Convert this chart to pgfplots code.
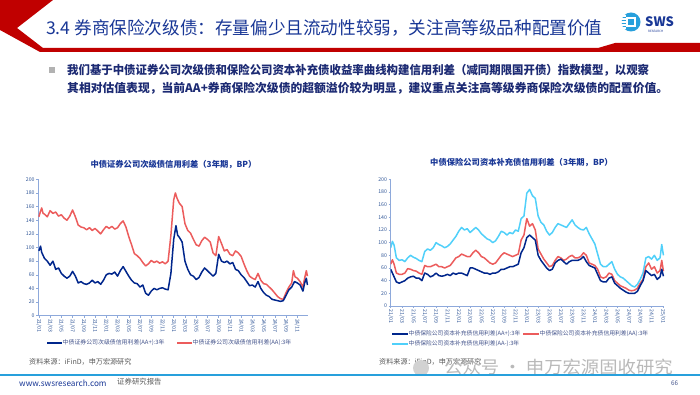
\documentclass[border=0pt]{standalone}
\usepackage{fontspec}
\usepackage{pgfplots}
\pgfplotsset{compat=1.18}
\setmainfont{Noto Sans CJK SC}
\definecolor{navy}{RGB}{0,38,140}
\definecolor{redl}{RGB}{236,92,92}
\definecolor{skyl}{RGB}{80,208,250}
\definecolor{axisblue}{RGB}{142,169,219}
\definecolor{ticklab}{RGB}{47,85,151}
\definecolor{titleblue}{RGB}{25,55,150}
\definecolor{bodyblue}{RGB}{28,42,115}
\definecolor{chevred}{RGB}{192,0,0}
\definecolor{legtext}{RGB}{68,84,140}
\definecolor{srcgray}{RGB}{89,89,89}
\definecolor{sepblue}{RGB}{40,160,220}
\newcommand\fs[1]{\fontsize{#1}{#1}\selectfont}
\begin{document}
\begin{tikzpicture}[x=1pt,y=1pt]
\path[use as bounding box, fill=white] (0,0) rectangle (700,394);
% header chevron and bar
\fill[chevred] (0,394) -- (53,394) -- (17,366) -- (43,346) -- (598,346) -- (615,351) -- (700,351) -- (700,342) -- (40,342) -- (0,364) -- cycle;
\node[anchor=west, inner sep=0, text=titleblue, font=\fs{17.6}] at (46,366) {3.4 券商保险次级债：存量偏少且流动性较弱，关注高等级品种配置价值};
% logo
\fill[sepblue] (631,372) circle (9.5);
\fill[white] (626,367) rectangle (636,377);
\fill[sepblue] (628,369) rectangle (634,375);
\foreach \yy in {366,369,372,375,378} {\fill[white] (621,\yy-0.6) rectangle (626,\yy+0.6);}
\node[anchor=west, inner sep=0, text=titleblue, font=\fs{13}\bfseries] at (645,372) {SWS};
\node[anchor=west, inner sep=0, text=titleblue, font=\fs{3}] at (648,362.5) {RESEARCH};
% bullet text
\fill[gray!60] (48.5,320.5) rectangle (55,327);
\node[anchor=west, inner sep=0, text=bodyblue, font=\fs{11.8}\bfseries, xscale=0.967] at (67,324) {我们基于中债证券公司次级债和保险公司资本补充债收益率曲线构建信用利差（减同期限国开债）指数模型，以观察};
\node[anchor=west, inner sep=0, text=bodyblue, font=\fs{11.8}\bfseries] at (67,306) {其相对估值表现，当前AA+券商保险次级债的超额溢价较为明显，建议重点关注高等级券商保险次级债的配置价值。};
% chart titles
\node[text=titleblue, font=\fs{8.3}\bfseries, inner sep=0] at (173.5,229) {中债证券公司次级债信用利差（3年期，BP）};
\node[text=titleblue, font=\fs{8.3}\bfseries, inner sep=0] at (521.5,231) {中债保险公司资本补充债信用利差（3年期，BP）};

\pgfplotsset{myax/.style={
  scale only axis, anchor=south west,
  ymin=0, ymax=200, ytick={0,20,...,200},
  axis x line*=bottom, axis y line*=left,
  axis line style={color=axisblue, line width=0.7pt},
  tick style={color=axisblue, line width=0.5pt}, tick align=outside, major tick length=2pt,
  ticklabel style={font=\fs{5.2}, text=ticklab},
  x tick label style={rotate=-90, anchor=west, inner sep=1.2pt},
  y tick label style={inner sep=1.5pt},
  /pgf/number format/assume math mode=true,
  every axis plot/.append style={line width=1.5pt, line join=round, mark=none},
}}

% ===== left chart =====
\begin{axis}[myax, at={(38.3pt,78.3pt)}, width=269.7pt, height=136.4pt,
  xmin=-0.1, xmax=47.9,
  xtick={0,2,...,46},
  xticklabels={21/01,21/03,21/05,21/07,21/09,21/11,22/01,22/03,22/05,22/07,22/09,22/11,23/01,23/03,23/05,23/07,23/09,23/11,24/01,24/03,24/05,24/07,24/09,24/11}]
\addplot[color=redl] coordinates {
(0,145)(0.25,152)(0.5,158)(0.75,150)(1,149)(1.5,145)(2,154)(2.5,150)(3,152)(3.5,146)(4,148)(4.5,143)(5,140)(5.5,146)(6,155)(6.5,145)(7,133)(7.5,130)(8,129)(8.5,126)(9,129)(9.5,125)(10,128)(10.5,124)(11,120)(11.5,126)(12,131)(12.5,128)(13,131)(13.5,127)(14,129)(14.5,135)(15,139)(15.5,130)(16,116)(16.5,104)(17,91)(17.5,88)(18,84)(18.5,78)(19,73)(19.5,76)(20,81)(20.5,78)(21,80)(21.5,77)(22,79)(22.5,76)(23,80)(23.5,118)(24,170)(24.3,180)(24.6,172)(25,165)(25.5,160)(26,135)(26.5,125)(27,121)(27.5,112)(28,104)(28.5,102)(29,110)(29.5,115)(30,112)(30.5,108)(31,92)(31.5,88)(32,116)(32.5,106)(33,95)(33.5,97)(34,90)(34.5,88)(35,95)(35.5,92)(36,87)(36.5,76)(37,66)(37.5,58)(38,55)(38.5,53)(39,62)(39.5,52)(40,47)(40.5,46)(41,42)(41.5,38)(42,33)(42.5,28)(43,25)(43.5,24)(44,34)(44.5,42)(45,48)(45.3,66)(45.6,57)(46,55)(46.5,50)(47,42)(47.3,55)(47.6,66)(47.8,58)
};
\addplot[color=navy] coordinates {
(0,95)(0.3,102)(0.5,93)(1,84)(1.5,80)(2,74)(2.5,80)(3,68)(3.5,70)(4,62)(4.5,58)(5,55)(5.5,58)(6,65)(6.5,58)(7,48)(7.5,50)(8,47)(8.5,46)(9,48)(9.5,52)(10,48)(10.5,50)(11,46)(11.5,52)(12,60)(12.5,62)(13,61)(13.5,64)(14,58)(14.5,66)(15,72)(15.5,65)(16,58)(16.5,52)(17,48)(17.5,47)(18,42)(18.5,45)(19,33)(19.5,30)(20,36)(20.5,40)(21,38)(21.5,40)(22,41)(22.5,39)(23,38)(23.5,62)(24,112)(24.4,132)(24.7,118)(25,115)(25.5,108)(26,80)(26.5,68)(27,60)(27.5,58)(28,53)(28.5,56)(29,64)(29.5,70)(30,66)(30.5,62)(31,58)(31.5,62)(32,90)(32.5,80)(33,78)(33.5,80)(34,76)(34.5,78)(35,68)(35.5,66)(36,60)(36.5,56)(37,50)(37.5,44)(38,45)(38.5,42)(39,50)(39.5,40)(40,34)(40.5,30)(41,28)(41.5,24)(42,23)(42.5,22)(43,21)(43.5,22)(44,30)(44.5,38)(45,42)(45.5,50)(46,48)(46.5,45)(47,36)(47.3,48)(47.6,55)(47.8,45)
};
\end{axis}

% ===== right chart =====
\begin{axis}[myax, at={(390.7pt,88pt)}, width=273.3pt, height=126.7pt,
  xmin=0, xmax=48.2,
  xtick={0,2,...,48},
  xticklabels={21/01,21/03,21/05,21/07,21/09,21/11,22/01,22/03,22/05,22/07,22/09,22/11,23/01,23/03,23/05,23/07,23/09,23/11,24/01,24/03,24/05,24/07,24/09,24/11,25/01}]
\addplot[color=skyl] coordinates {
(0,92)(0.3,102)(0.6,96)(1,76)(1.5,72)(2,73)(2.5,70)(3,76)(3.5,80)(4,77)(4.5,75)(5,72)(5.5,70)(6,86)(6.5,90)(7,88)(7.5,92)(8,100)(8.5,97)(9,95)(9.5,92)(10,94)(10.5,98)(11,104)(11.5,110)(12,118)(12.5,124)(13,120)(13.5,122)(14,116)(14.5,120)(15,124)(15.5,120)(16,114)(16.5,110)(17,106)(17.5,104)(18,100)(18.5,103)(19,110)(19.5,118)(20,116)(20.5,112)(21,116)(21.5,114)(22,120)(22.5,118)(23,138)(23.5,142)(24,178)(24.5,184)(25,174)(25.5,170)(26,142)(26.5,132)(27,128)(27.5,118)(28,112)(28.5,116)(29,124)(29.5,130)(30,128)(30.5,126)(31,124)(31.5,130)(32,136)(32.5,128)(33,124)(33.5,121)(34,120)(34.5,124)(35,114)(35.5,106)(36,98)(36.5,82)(37,66)(37.5,62)(38,62)(38.5,66)(39,70)(39.5,58)(40,50)(40.5,46)(41,44)(41.5,40)(42,36)(42.5,32)(43,30)(43.5,34)(44,42)(44.5,52)(45,76)(45.5,78)(46,74)(46.5,80)(47,72)(47.5,76)(47.8,97)(48.1,80)
};
\addplot[color=redl] coordinates {
(0,66)(0.3,73)(0.6,66)(1,52)(1.5,50)(2,50)(2.5,52)(3,59)(3.5,58)(4,56)(4.5,55)(5,52)(5.5,50)(6,64)(6.5,62)(7,62)(7.5,64)(8,66)(8.5,62)(9,62)(9.5,60)(10,62)(10.5,64)(11,70)(11.5,76)(12,78)(12.5,82)(13,80)(13.5,78)(14,78)(14.5,84)(15,88)(15.5,84)(16,78)(16.5,76)(17,72)(17.5,68)(18,66)(18.5,68)(19,74)(19.5,80)(20,84)(20.5,82)(21,80)(21.5,78)(22,80)(22.5,82)(23,104)(23.5,112)(24,138)(24.5,126)(25,130)(25.5,120)(26,90)(26.5,82)(27,74)(27.5,68)(28,62)(28.5,64)(29,72)(29.5,78)(30,76)(30.5,72)(31,74)(31.5,78)(32,80)(32.5,76)(33,76)(33.5,78)(34,84)(34.5,80)(35,68)(35.5,66)(36,64)(36.5,58)(37,46)(37.5,44)(38,46)(38.5,52)(39,50)(39.5,40)(40,36)(40.5,32)(41,30)(41.5,28)(42,25)(42.5,24)(43,25)(43.5,28)(44,36)(44.5,42)(45,62)(45.5,68)(46,58)(46.5,62)(47,52)(47.5,56)(47.8,72)(48.1,55)
};
\addplot[color=navy] coordinates {
(0,58)(0.3,52)(0.6,46)(1,38)(1.5,36)(2,38)(2.5,40)(3,44)(3.5,46)(4,47)(4.5,44)(5,44)(5.5,40)(6,52)(6.5,50)(7,46)(7.5,48)(8,52)(8.5,48)(9,47)(9.5,48)(10,50)(10.5,48)(11,52)(11.5,50)(12,52)(12.5,52)(13,50)(13.5,48)(14,60)(14.5,60)(15,58)(15.5,56)(16,54)(16.5,52)(17,52)(17.5,50)(18,52)(18.5,52)(19,54)(19.5,58)(20,58)(20.5,60)(21,62)(21.5,62)(22,64)(22.5,66)(23,84)(23.5,92)(24,108)(24.5,112)(25,108)(25.5,104)(26,80)(26.5,72)(27,66)(27.5,60)(28,56)(28.5,58)(29,68)(29.5,72)(30,74)(30.5,70)(31,66)(31.5,70)(32,72)(32.5,72)(33,72)(33.5,74)(34,78)(34.5,70)(35,64)(35.5,62)(36,60)(36.5,50)(37,40)(37.5,38)(38,38)(38.5,44)(39,46)(39.5,36)(40,32)(40.5,28)(41,25)(41.5,22)(42,20)(42.5,20)(43,20)(43.5,23)(44,32)(44.5,40)(45,56)(45.5,52)(46,48)(46.5,50)(47,42)(47.5,46)(47.8,58)(48.1,47)
};
\end{axis}

% legends (keys)
\draw[navy, line width=1.3pt] (47,51) -- (62,51);
\node[anchor=west, inner sep=0.5pt, text=legtext, font=\fs{5.9}] at (62,51) {中债证券公司次级债信用利差(AA+):3年};
\draw[redl, line width=1.3pt] (177,51) -- (192,51);
\node[anchor=west, inner sep=0.5pt, text=legtext, font=\fs{5.9}] at (192,51) {中债证券公司次级债信用利差(AA):3年};
\draw[navy, line width=1.3pt] (392,60) -- (408,60);
\node[anchor=west, inner sep=0.5pt, text=legtext, font=\fs{5.8}] at (408,60) {中债保险公司资本补充债信用利差(AA+):3年};
\draw[redl, line width=1.3pt] (523,60) -- (539,60);
\node[anchor=west, inner sep=0.5pt, text=legtext, font=\fs{5.8}] at (539,60) {中债保险公司资本补充债信用利差(AA):3年};
\draw[skyl, line width=1.3pt] (392,50) -- (408,50);
\node[anchor=west, inner sep=0.5pt, text=legtext, font=\fs{5.8}] at (408,50) {中债保险公司资本补充债信用利差(AA-):3年};
% sources
\node[anchor=west, inner sep=0, text=srcgray, font=\fs{7.1}] at (29,32) {资料来源：iFinD，申万宏源研究};
\node[anchor=west, inner sep=0, text=srcgray, font=\fs{7.1}] at (379,32) {资料来源：iFinD，申万宏源研究};
% watermark
\fill[gray!35] (421,26) circle (8);
\node[anchor=west, inner sep=0, text=gray!55, font=\fs{17}, xscale=1.08] at (444,27) {公众号 · 申万宏源固收研究};
% separator and footer
\draw[sepblue, line width=1.1pt] (0,19) -- (700,19);
\node[anchor=west, inner sep=0, text=titleblue, font=\fs{8.2}] at (19,11) {www.swsresearch.com};
\node[anchor=west, inner sep=0, text=srcgray, font=\fs{7.4}] at (117,12) {证券研究报告};
\node[anchor=west, inner sep=0, text=legtext, font=\fs{6.3}] at (671,11) {66};
\end{tikzpicture}
\end{document}
